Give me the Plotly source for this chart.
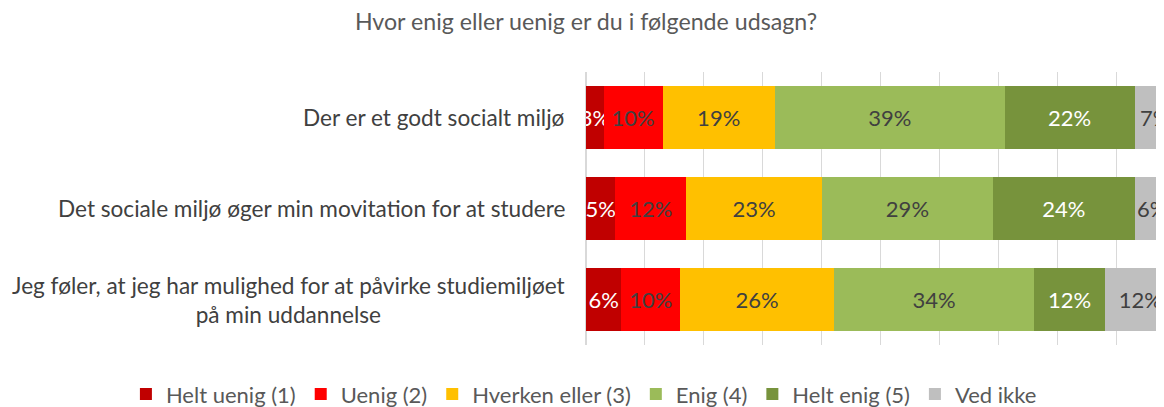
import plotly.graph_objects as go

categories = [
    "Der er et godt socialt miljø",
    "Det sociale miljø øger min movitation for at studere",
    "Jeg føler, at jeg har mulighed for at påvirke studiemiljøet<br>på min uddannelse",
]
series_names = ["Helt uenig (1)", "Uenig (2)", "Hverken eller (3)", "Enig (4)", "Helt enig (5)", "Ved ikke"]
helt_uenig = [3, 5, 6]
uenig = [10, 12, 10]
hverken = [19, 23, 26]
enig = [39, 29, 34]
helt_enig = [22, 24, 12]
ved_ikke = [7, 6, 12]

colors = ["#C00000", "#FF0000", "#FFC000", "#9BBB59", "#77933C", "#BFBFBF"]
text_colors = ["white", "#404040", "#404040", "#404040", "white", "#404040"]
FONT = "Lato, Carlito, Calibri, sans-serif"

fig = go.Figure()
for name, vals, col, tcol in zip(
    series_names,
    [helt_uenig, uenig, hverken, enig, helt_enig, ved_ikke],
    colors, text_colors,
):
    fig.add_trace(go.Bar(
        y=categories,
        x=[v / 100 for v in vals],
        name=name,
        orientation="h",
        marker=dict(color=col, line=dict(width=0)),
        text=[f"{v}%" for v in vals],
        textposition="inside",
        insidetextanchor="middle",
        constraintext="none",
        textangle=0,
        insidetextfont=dict(color=tcol, size=22, family=FONT),
        cliponaxis=True,
        hoverinfo="skip",
    ))

# category labels as centred multi-line annotations
for c in categories:
    fig.add_annotation(
        x=0, xref="paper", y=c, yref="y",
        text=c, showarrow=False, xanchor="right", align="center",
        xshift=-19, font=dict(size=22.6, color="#404040", family=FONT),
    )

# the page body has an 8px margin, so the figure is sized 8px smaller
fig.update_layout(
    barmode="stack",
    bargap=0.31,
    width=1156, height=399,
    margin=dict(l=578, r=0, t=64, b=62, autoexpand=False),
    paper_bgcolor="white", plot_bgcolor="white",
    font=dict(family=FONT, color="#595959"),
    title=dict(
        text="Hvor enig eller uenig er du i følgende udsagn?",
        x=0.5, xref="container", xanchor="center",
        y=0.965, yref="container", yanchor="middle",
        font=dict(size=23.2, color="#595959", family=FONT),
    ),
    xaxis=dict(
        range=[0, 0.98], dtick=0.1, tick0=0,
        showgrid=True, gridcolor="#D9D9D9", gridwidth=1,
        showticklabels=False, zeroline=True, zerolinecolor="#D9D9D9",
        showline=False, fixedrange=True,
    ),
    yaxis=dict(
        autorange="reversed", showticklabels=False, showgrid=False,
        showline=False, zeroline=False,
    ),
    legend=dict(
        orientation="h", xref="paper", x=-0.796, xanchor="left",
        yref="paper", y=-0.18, yanchor="middle",
        font=dict(size=22, color="#595959", family=FONT),
        traceorder="normal", itemwidth=30,
    ),
)

fig.write_html("out.html")
